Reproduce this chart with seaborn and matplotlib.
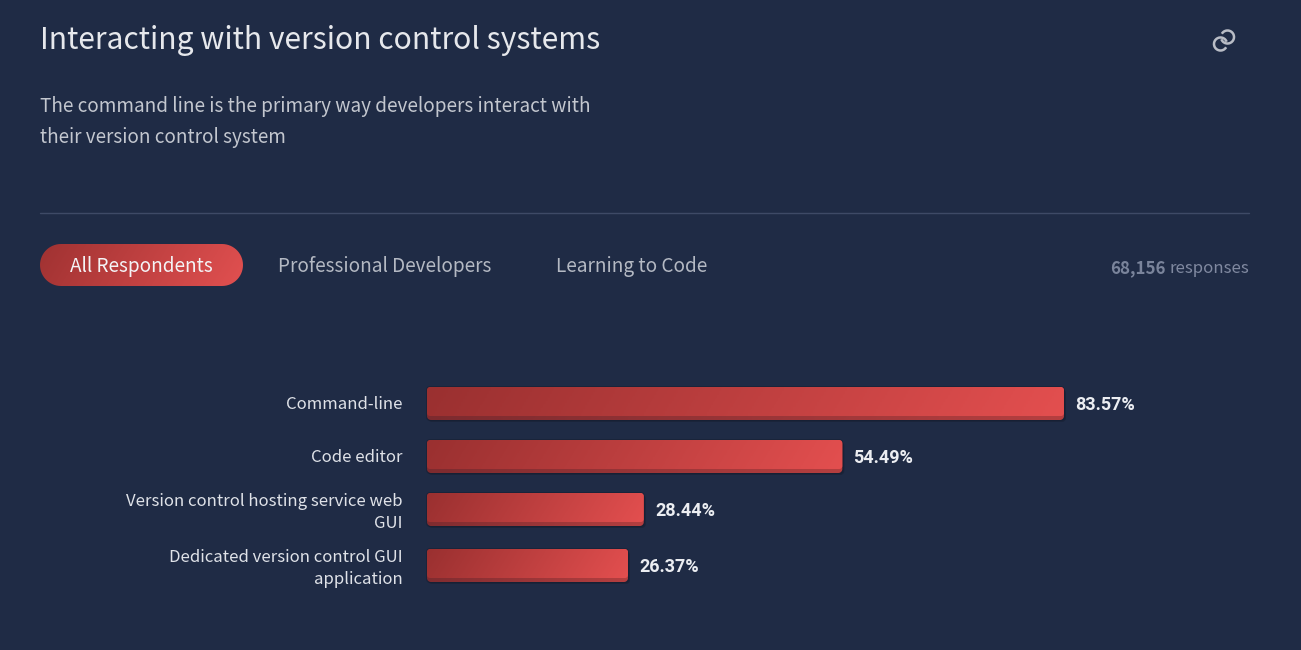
import numpy as np
import pandas as pd
import matplotlib
matplotlib.use('Agg')
import matplotlib.pyplot as plt
from matplotlib.colors import LinearSegmentedColormap
from matplotlib.patches import Arc, Polygon
from matplotlib.transforms import ScaledTranslation
import seaborn as sns

title = 'Interacting with version control systems'
subtitle = ['The command line is the primary way developers interact with',
            'their version control system']
tabs = ['All Respondents', 'Professional Developers', 'Learning to Code']
responses = '68,156'

categories = ['Command-line', 'Code editor',
              'Version control hosting service web\nGUI',
              'Dedicated version control GUI\napplication']
percent = [83.57, 54.49, 28.44, 26.37]

# layout, in pixels of the 1301x650 picture
W, H = 1301, 650
row_y = [403.5, 456.5, 509.5, 565.5]
bar_h = 33
px_per_pct = 7.622

BG = '#1f2b45'
sns.set_theme(style='white')
plt.rcParams['font.family'] = ['Noto Sans CJK SC', 'DejaVu Sans']
plt.rcParams['savefig.facecolor'] = BG

bar_cmap = LinearSegmentedColormap.from_list('bar', ['#9a3030', '#e34f4f'])
band_cmap = LinearSegmentedColormap.from_list('band', ['#7b2a2e', '#b53f40'])
pill_cmap = LinearSegmentedColormap.from_list('pill', ['#a03232', '#e15050'])


def round_box(x0, y0, x1, y1, r, **kw):
    # true circular corners, FancyBboxPatch comes out too square on the pill
    a = np.linspace(0, np.pi / 2, 16)
    pts = np.vstack([
        np.c_[x1 - r + r * np.sin(a), y0 + r - r * np.cos(a)],
        np.c_[x1 - r + r * np.cos(a), y1 - r + r * np.sin(a)],
        np.c_[x0 + r - r * np.sin(a), y1 - r + r * np.cos(a)],
        np.c_[x0 + r - r * np.cos(a), y0 + r - r * np.sin(a)],
    ])
    return Polygon(pts, closed=True, **kw)


def gradient(ax, x0, y0, x1, y1, cmap, radius):
    # rounded box filled with a slightly tilted left-to-right gradient
    box = round_box(x0, y0, x1, y1, radius, fc='none', ec='none', transform=ax.transData)
    ax.add_patch(box)
    xx, yy = np.meshgrid(np.linspace(0, 1, 300), np.linspace(0, 1, 40))
    t = (xx * (x1 - x0) + yy * (y1 - y0) * 0.6) / ((x1 - x0) + (y1 - y0) * 0.6)
    im = ax.imshow(t, cmap=cmap, vmin=0, vmax=1, extent=(x0, x1, y1, y0),
                   aspect='auto', interpolation='bilinear', zorder=3)
    im.set_clip_path(box)


fig = plt.figure(figsize=(W / 100, H / 100), dpi=100, facecolor=BG)

# bars live on a percent axis, y is in picture pixels so rows can be uneven
ax = fig.add_axes([427 / W, 0, (W - 427) / W, 1])
ax.set_facecolor('none')
df = pd.DataFrame({'category': categories, 'percent': percent, 'row': row_y})
sns.barplot(data=df, x='percent', y='row', orient='y', native_scale=True,
            width=bar_h / 53, color='#c04040', ax=ax)
ax.set_xlim(0, (W - 427) / px_per_pct)
ax.set_ylim(H, 0)
ax.set_xlabel('')
ax.set_ylabel('')
ax.set_xticks([])
ax.set_yticks(row_y)
ax.set_yticklabels(categories, fontsize=12.05, color='#dfe2e8', linespacing=1.33,
                   ha='right', va='center_baseline')
ax.tick_params(axis='y', length=0, pad=17.4)
nudge = ScaledTranslation(0, 1.2 / 100, fig.dpi_scale_trans)
for lab in ax.get_yticklabels():
    lab.set_transform(lab.get_transform() + nudge)
sns.despine(ax=ax, left=True, bottom=True, right=True, top=True)
value_labels = ax.bar_label(ax.containers[0], fmt='%.2f%%', padding=8, fontsize=13,
                            fontweight='bold', family='Roboto', color='#eceef2',
                            label_type='edge')
for lab in value_labels:
    off_x, off_y = lab.xyann
    lab.xyann = (off_x, off_y - 0.8)

# overlay in picture pixels for the page furniture and gradient bars
ov = fig.add_axes([0, 0, 1, 1])
ov.set_facecolor('none')
ov.axis('off')

fig.canvas.draw()
for bar in ax.patches:
    ext = bar.get_window_extent()
    x0, x1 = ext.x0, ext.x1
    y0, y1 = H - ext.y1, H - ext.y0
    bar.set_visible(False)
    ov.add_patch(round_box(x0 - 1, y0 - 1, x1 + 1, y1 + 1, 4,
                           fc='#141c2e', ec='none', alpha=0.45, zorder=2))
    ov.add_patch(round_box(x0 + 1, y0 + 2, x1 + 2, y1 + 2, 4,
                           fc='#141c2e', ec='none', alpha=0.45, zorder=2))
    gradient(ov, x0, y0, x1, y1, band_cmap, 4)
    gradient(ov, x0, y0, x1, y1 - 4, bar_cmap, 3)

gradient(ov, 40, 244, 243, 286, pill_cmap, 21)

# imshow moved the limits, put the pixel frame back before measuring text
ov.set_xlim(0, W)
ov.set_ylim(H, 0)

ov.text(40, 49.5, title, fontsize=21.65, color='#e6e8ec', va='baseline')
ov.text(40, 112, subtitle[0], fontsize=13.65, color='#c3c7cf', va='baseline')
ov.text(40, 143, subtitle[1], fontsize=13.6, color='#c3c7cf', va='baseline')
ov.plot([40, 1249], [213, 213], color='#3e4a66', lw=1)

ov.text(141.5, 272, tabs[0], fontsize=13.7, color='#f4f4f6', ha='center', va='baseline', zorder=5)
ov.text(384.5, 272, tabs[1], fontsize=13.7, color='#b4b9c3', ha='center', va='baseline')
ov.text(631.5, 272, tabs[2], fontsize=13.7, color='#b4b9c3', ha='center', va='baseline')

resp = ov.text(1249, 273, 'responses', fontsize=12.1, color='#8089a0', ha='right', va='baseline')
fig.canvas.draw()
left = resp.get_window_extent().x0
ov.text(left - 4, 273, responses, fontsize=12.2, fontweight='bold', color='#7a849b',
        ha='right', va='baseline')

# link icon: two open rings hooked into each other
ov.add_patch(Arc((1227.5, 37), 13, 13, theta1=210, theta2=520, ec='#b9bdc6', lw=1.8))
ov.add_patch(Arc((1220.5, 44), 13, 13, theta1=30, theta2=340, ec='#b9bdc6', lw=1.8))

ov.set_xlim(0, W)
ov.set_ylim(H, 0)

fig.savefig('out.png', dpi=100, facecolor=BG)
